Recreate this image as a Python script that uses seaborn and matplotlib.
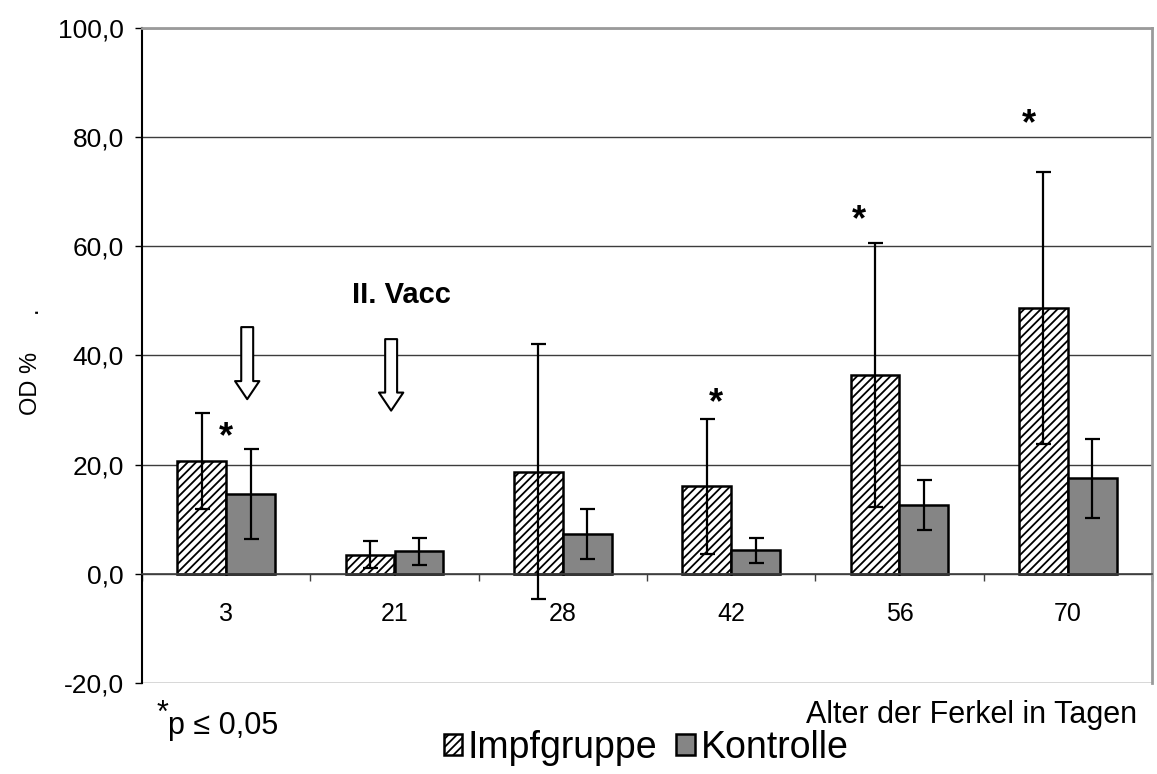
import numpy as np
import pandas as pd
import matplotlib
matplotlib.use("Agg")
import matplotlib.pyplot as plt
from matplotlib.patches import FancyArrowPatch, ArrowStyle
from matplotlib.ticker import FuncFormatter, FixedLocator
import seaborn as sns

# ----- data -----
days = ["3", "21", "28", "42", "56", "70"]
groups = ["Impfgruppe", "Kontrolle"]
impf_mean = [20.7, 3.5, 18.7, 16.0, 36.4, 48.7]
impf_sd = [8.8, 2.5, 23.4, 12.4, 24.2, 24.9]
kontr_mean = [14.6, 4.1, 7.3, 4.3, 12.6, 17.5]
kontr_sd = [8.3, 2.4, 4.6, 2.3, 4.6, 7.2]

# significant days (p <= 0.05)
star_days = ["3", "42", "56", "70"]
star_dx = [0.0, -0.09, -0.24, -0.23]
star_y = [26.9, 33.2, 66.7, 84.4]

# vaccination arrows (category offset, top, tip)
arrow_pos = [(0.125, 45.2, 32.0), (0.98, 43.0, 29.9)]

df = pd.DataFrame({
    "Tag": days * 2,
    "Gruppe": [groups[0]] * len(days) + [groups[1]] * len(days),
    "OD": impf_mean + kontr_mean,
})

sns.set_style("white")
plt.rcParams["font.family"] = ["Liberation Sans", "DejaVu Sans"]
plt.rcParams["hatch.linewidth"] = 1.3
for k in ["text.color", "axes.labelcolor", "xtick.color", "ytick.color"]:
    plt.rcParams[k] = "black"

W, H = 1157, 774
fig = plt.figure(figsize=(W / 100, H / 100), dpi=100)
ax = fig.add_axes([142 / W, 1 - 683 / H, (1152 - 142) / W, (683 - 28) / H])

sns.barplot(
    data=df, x="Tag", y="OD", hue="Gruppe",
    order=days, hue_order=groups,
    palette={"Impfgruppe": "white", "Kontrolle": "#858585"},
    saturation=1, width=0.58, errorbar=None,
    edgecolor="black", linewidth=1.8, legend=False, ax=ax,
)

for p in ax.containers[0]:
    p.set_hatch("////")

# error bars (mean +/- SD)
for cont, sd in zip(ax.containers, [impf_sd, kontr_sd]):
    xs = [p.get_x() + p.get_width() / 2 for p in cont]
    ys = [p.get_height() for p in cont]
    ax.errorbar(xs, ys, yerr=sd, fmt="none", ecolor="black",
                elinewidth=1.6, capsize=5.4, capthick=1.6, zorder=5)

# axes styling
ax.set_xlim(-0.5, len(days) - 0.5)
ax.set_ylim(-20, 100)
ax.set_yticks(np.arange(-20, 101, 20))
ax.yaxis.set_major_formatter(FuncFormatter(lambda v, _: f"{v:.1f}".replace(".", ",")))
ax.yaxis.grid(True, color="#3c3c3c", linewidth=1)
ax.set_axisbelow(True)
ax.set_xlabel("")
ax.set_ylabel("")

ax.spines["left"].set_color("black")
ax.spines["left"].set_linewidth(1.5)
for s in ["right", "top"]:
    ax.spines[s].set_color("#9a9a9a")
    ax.spines[s].set_linewidth(2)
ax.spines["bottom"].set_position(("data", 0))
ax.spines["bottom"].set_color("#404040")
ax.spines["bottom"].set_linewidth(1.2)

ax.tick_params(axis="y", which="major", length=5, width=1, color="black",
               direction="out", labelsize=19, pad=8, left=True)
ax.tick_params(axis="x", which="major", length=0, labelsize=18, pad=20)
ax.xaxis.set_minor_locator(FixedLocator(np.arange(-0.5, len(days), 1)))
ax.tick_params(axis="x", which="minor", length=5, width=1, color="#404040",
               direction="out", bottom=True)

# significance stars
for d, dx, y in zip(star_days, star_dx, star_y):
    ax.annotate("*", (days.index(d) + dx, y), xytext=(0, -8),
                textcoords="offset points", ha="center", va="center",
                fontsize=26, fontweight="bold", zorder=7)

# vaccination arrows
for x, top, tip in arrow_pos:
    arr = FancyArrowPatch(
        (x, top), (x, tip), transform=ax.transData,
        arrowstyle=ArrowStyle.Simple(head_length=13, head_width=17.5, tail_width=8.6),
        mutation_scale=1, shrinkA=0, shrinkB=0,
        fc="white", ec="black", lw=1.5, zorder=6,
    )
    ax.add_patch(arr)

ax.text(0.749, 51.1, "II. Vacc", fontsize=21, fontweight="bold",
        ha="left", va="center")

# figure texts
fig.text(31 / W, 1 - 383 / H, "OD %", rotation=90, ha="center", va="center", fontsize=17)
fig.text(31 / W, 1 - 310 / H, ".", rotation=90, ha="center", va="center", fontsize=17)
fig.text(1137 / W, 1 - 715 / H, "Alter der Ferkel in Tagen",
         ha="right", va="center", fontsize=22)
fig.text(157 / W, 1 - 714 / H, "*", ha="left", va="center", fontsize=22)
fig.text(168 / W, 1 - 726 / H, "p \u2264 0,05", ha="left", va="center", fontsize=22)

fig.legend(
    handles=[ax.containers[0][0], ax.containers[1][0]], labels=groups,
    loc="center", bbox_to_anchor=(646 / W, 1 - 748 / H), ncol=2,
    frameon=False, fontsize=27, handlelength=0.5, handleheight=0.5,
    handletextpad=0.15, columnspacing=0.5, borderpad=0, borderaxespad=0,
)

fig.savefig("out.png", dpi=100)
